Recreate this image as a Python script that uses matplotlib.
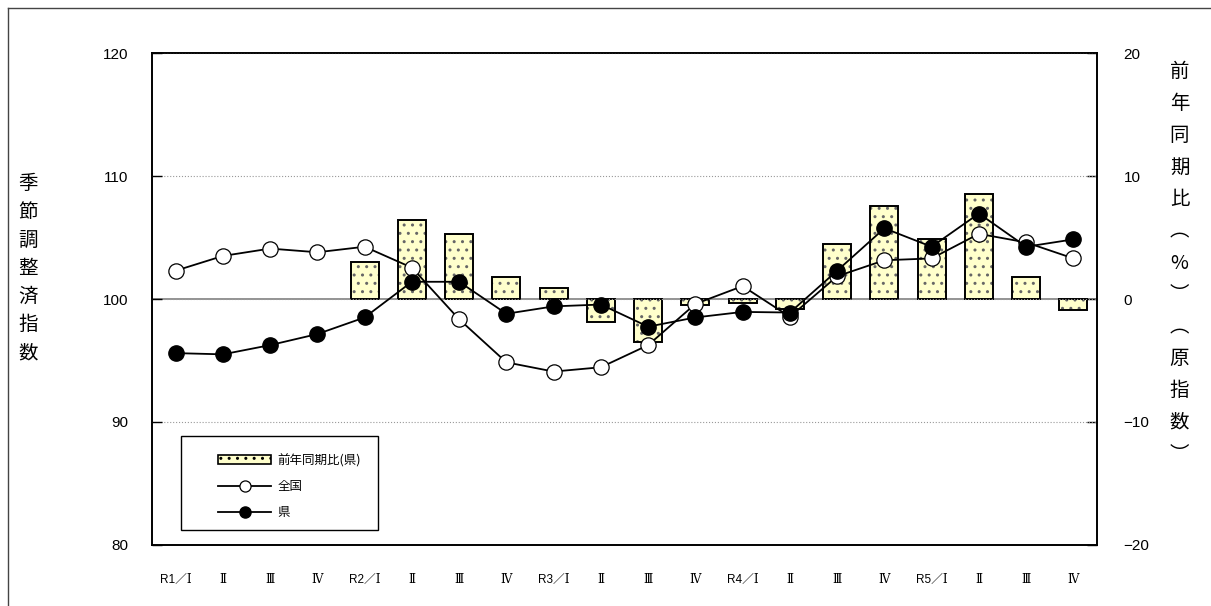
import numpy as np
import matplotlib
matplotlib.use("Agg")
import matplotlib.pyplot as plt
from matplotlib.patches import Patch, Rectangle
from matplotlib.lines import Line2D

plt.rcParams['font.family'] = ['Liberation Sans', 'Noto Sans CJK JP', 'DejaVu Sans']

# quarter labels
quarters = ['R1／Ⅰ', 'Ⅱ', 'Ⅲ', 'Ⅳ', 'R2／Ⅰ', 'Ⅱ', 'Ⅲ', 'Ⅳ', 'R3／Ⅰ', 'Ⅱ', 'Ⅲ', 'Ⅳ',
            'R4／Ⅰ', 'Ⅱ', 'Ⅲ', 'Ⅳ', 'R5／Ⅰ', 'Ⅱ', 'Ⅲ', 'Ⅳ']

# seasonally adjusted index
national = [102.3, 103.5, 104.1, 103.8, 104.25, 102.55, 98.35, 94.85, 94.1, 94.45,
            96.25, 99.6, 101.05, 98.55, 101.85, 103.15, 103.3, 105.3, 104.6, 103.3]
prefecture = [95.6, 95.5, 96.25, 97.15, 98.5, 101.4, 101.4, 98.8, 99.4, 99.55,
              97.75, 98.5, 98.95, 98.9, 102.3, 105.75, 104.25, 106.95, 104.25, 104.85]

# year-on-year change (prefecture, original index, %)
yoy = [np.nan, np.nan, np.nan, np.nan, 3.0, 6.4, 5.3, 1.8, 0.9, -1.85,
       -3.5, -0.5, -0.3, -0.8, 4.5, 7.55, 4.85, 8.5, 1.8, -0.9]

x = np.arange(len(quarters))

fig = plt.figure(figsize=(12.11, 6.06), dpi=100)
ax = fig.add_axes([0.1255, 0.1007, 0.7804, 0.8118])
ax2 = ax.twinx()

# bars on the right axis, drawn underneath the lines
ax2.bar(x, yoy, width=0.59, color='#ffffcc', edgecolor='#666666', linewidth=0,
        hatch='..', zorder=2)
ax2.bar(x, yoy, width=0.59, fill=False, edgecolor='black', linewidth=1.4, zorder=3)
ax2.axhline(0, color='#808080', linewidth=1.2, zorder=1)
ax2.set_ylim(-20, 20)
ax2.set_yticks([-20, -10, 0, 10, 20])
ax2.set_yticklabels(['−20', '−10', '0', '10', '20'])

ax.set_zorder(ax2.get_zorder() + 1)
ax.patch.set_visible(False)

ax.plot(x, national, color='black', linewidth=1.3, marker='o', markersize=11,
        markerfacecolor='white', markeredgecolor='black', markeredgewidth=0.9, zorder=4)
ax.plot(x, prefecture, color='black', linewidth=1.3, marker='o', markersize=11,
        markerfacecolor='black', markeredgecolor='black', zorder=5)

ax.set_ylim(80, 120)
ax.set_yticks([80, 90, 100, 110, 120])
ax.set_xlim(-0.5, len(quarters) - 0.5)
ax.set_xticks(x)
ax.set_xticklabels(quarters, fontsize=8.5,
                   family=['Liberation Sans', 'DejaVu Serif', 'Noto Sans CJK JP'])
ax.yaxis.grid(True, linestyle=':', color='#999999', linewidth=0.8)

ax.tick_params(axis='y', direction='in', length=7, width=1, labelsize=11, pad=17)
ax.tick_params(axis='x', length=0, pad=21)
ax2.tick_params(axis='y', direction='in', length=7, width=1, labelsize=11, pad=19)
for a in (ax, ax2):
    for s in a.spines.values():
        s.set_linewidth(1.2)
        s.set_color('black')

# vertical axis titles
fig.text(0.023, 0.557, '\n'.join('季節調整済指数'), fontsize=14, ha='center', va='center',
         linespacing=1.45, family=['Noto Sans CJK JP'])
right_chars = ['前', '年', '同', '期', '比', '︵', '%', '︶', '︵', '原', '指', '数', '︶']
fig.text(0.974, 0.566, '\n'.join(right_chars), fontsize=14, ha='center', va='center',
         linespacing=1.68, family=['Noto Sans CJK JP'])

# legend
handles = [Patch(facecolor='#ffffcc', edgecolor='black', hatch='..', linewidth=1.2),
           Line2D([], [], color='black', linewidth=1.3, marker='o', markersize=8,
                  markerfacecolor='white', markeredgecolor='black', markeredgewidth=0.9),
           Line2D([], [], color='black', linewidth=1.3, marker='o', markersize=8,
                  markerfacecolor='black')]
leg = ax.legend(handles, ['前年同期比(県)', '全国', '県'], loc='lower left',
                bbox_to_anchor=(0.065, 0.042), frameon=False,
                handlelength=4.2, handleheight=0.7, handletextpad=0.5, labelspacing=1.05,
                borderaxespad=0, prop={'family': ['Noto Sans CJK JP'], 'size': 9})
ax.add_patch(Rectangle((0.031, 0.031), 0.208, 0.19, transform=ax.transAxes,
                       fill=False, edgecolor='black', linewidth=1, zorder=6))

# outer frame
fig.add_artist(Line2D([8 / 1211, 8 / 1211], [0, 1 - 8 / 606], color='#444444', linewidth=1))
fig.add_artist(Line2D([8 / 1211, 1], [1 - 8 / 606, 1 - 8 / 606], color='#444444', linewidth=1))

fig.savefig('out.png', dpi=100)
